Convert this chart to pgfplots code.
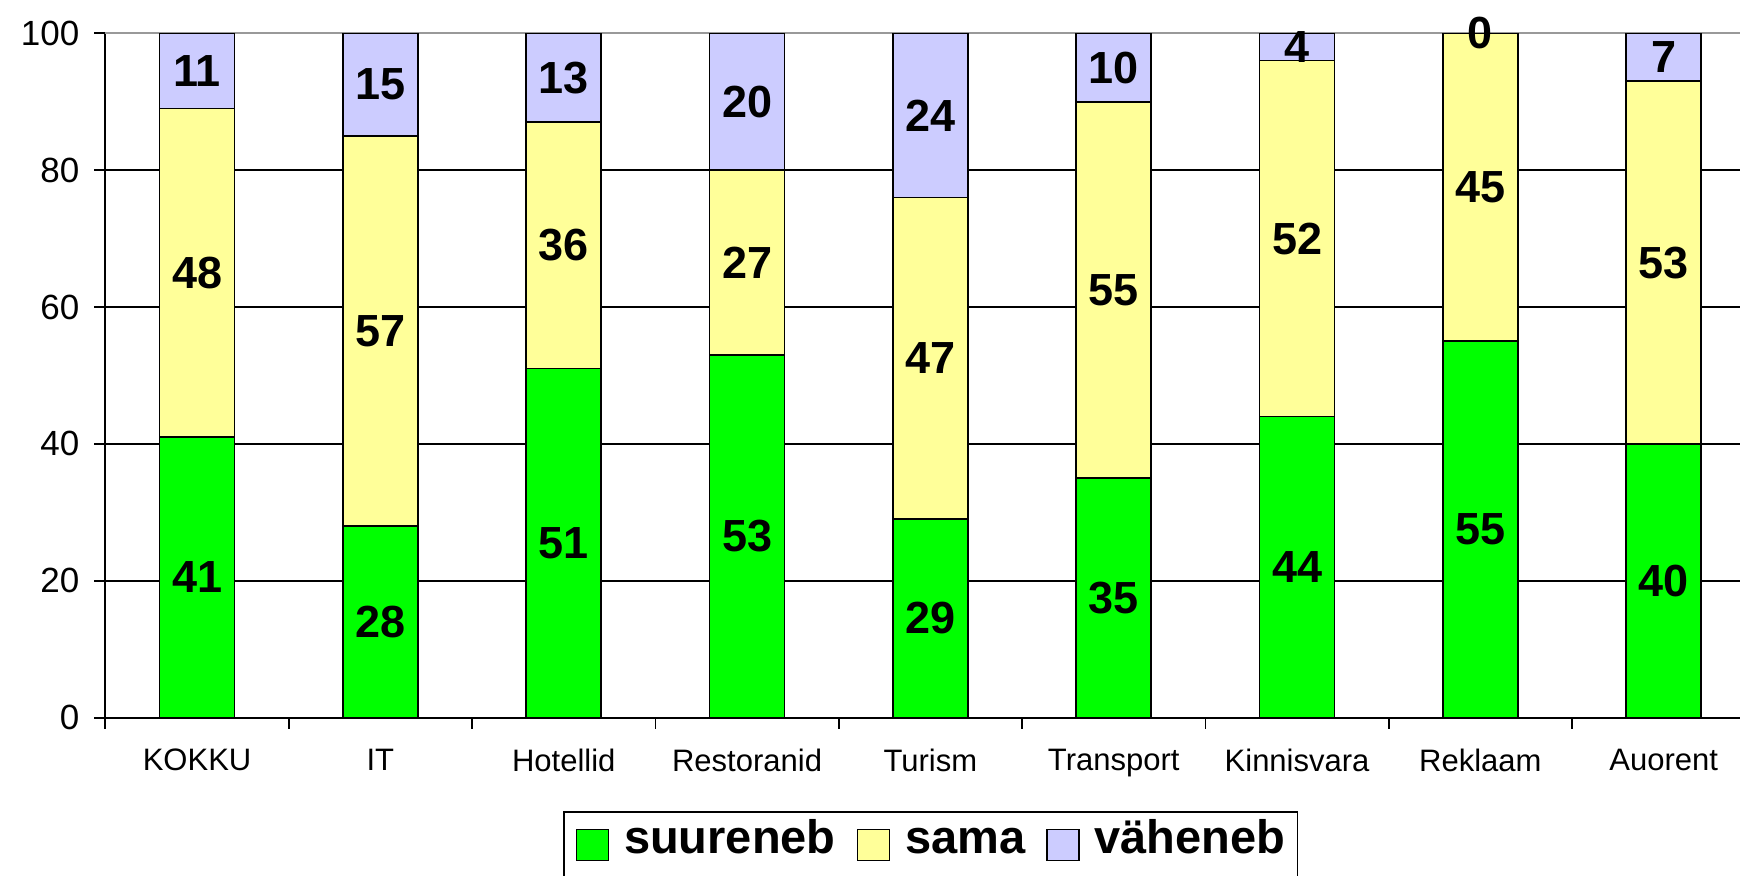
\documentclass[border=0pt]{standalone}
\usepackage{fontspec}
\setmainfont{Liberation Sans}
\usepackage{pgfplots}
\pgfplotsset{compat=1.18}
\definecolor{cgreen}{HTML}{00FF00}
\definecolor{cyellow}{HTML}{FFFF99}
\definecolor{cblue}{HTML}{CCCCFF}
\pgfplotsset{sq/.style={legend image code/.code={\draw[##1,draw=black,line width=0.7pt] (0pt,-6.2pt) rectangle (16pt,9.3pt);}}}
\begin{document}
\begin{tikzpicture}
\begin{axis}[
  at={(0,0)}, anchor=south west,
  scale only axis, width=825pt, height=342.2pt,
  clip=false,
  ybar stacked, bar width=37.5pt,
  xmin=-0.5, xmax=8.5, ymin=0, ymax=100,
  axis x line=bottom, axis y line=left,
  axis line style={-, black, line width=1pt},
  /pgf/number format/assume math mode=true,
  tick align=outside, major tick length=5.5pt,
  tick style={black, line width=0.9pt},
  xtick={-0.5,0.5,...,8.5}, xticklabels={},
  extra x ticks={0,1,2,3,4,5,6,7,8},
  extra x tick labels={KOKKU,IT,Hotellid,Restoranid,Turism,Transport,Kinnisvara,Reklaam,Auorent},
  extra x tick style={major tick length=0pt, xticklabel style={font=\fontsize{15.5}{17}\selectfont, yshift=-12pt}},
  ytick={0,20,40,60,80},
  extra y ticks={100},
  extra y tick style={grid style={gray!80, line width=0.9pt}},
  yticklabel style={font=\fontsize{17.5}{19}\selectfont, xshift=-4pt},
  ymajorgrids, grid style={black, line width=0.8pt},
  nodes near coords,
  every node near coord/.append style={font=\bfseries\fontsize{22.5}{24}\selectfont, text=black, anchor=center},
  legend columns=3,
  legend style={at={(rel axis cs:0.2773,-0.1363)}, anchor=north west, draw=black, line width=0.8pt,
    font=\bfseries\fontsize{23.5}{26}\selectfont, inner xsep=6pt, inner ysep=8.4pt,
    nodes={inner sep=0pt, text height=0.75em, text depth=0.22em},
    /tikz/every odd column/.append style={column sep=7.5pt},
    /tikz/every even column/.append style={column sep=10.5pt}},
]
\addplot+[sq, fill=cgreen, draw=black, line width=0.8pt] coordinates {(0,41) (1,28) (2,51) (3,53) (4,29) (5,35) (6,44) (7,55) (8,40)};
\addplot+[sq, fill=cyellow, draw=black, line width=0.8pt] coordinates {(0,48) (1,57) (2,36) (3,27) (4,47) (5,55) (6,52) (7,45) (8,53)};
\addplot+[sq, fill=cblue, draw=black, line width=0.8pt] coordinates {(0,11) (1,15) (2,13) (3,20) (4,24) (5,10) (6,4) (7,0) (8,7)};
\addplot[forget plot, stack plots=false, draw=none, fill=none, point meta=explicit symbolic, nodes near coords,
  visualization depends on=rawy \as \rawy,
  every node near coord/.append style={shift={(axis direction cs:0,\rawy/2)}}] coordinates {(7,100) [0]};
\legend{suureneb,sama,väheneb}
\end{axis}
\pgfresetboundingbox
\path (-52.7pt,-78.65pt) rectangle (817.3pt,358.85pt);
\end{tikzpicture}
\end{document}
